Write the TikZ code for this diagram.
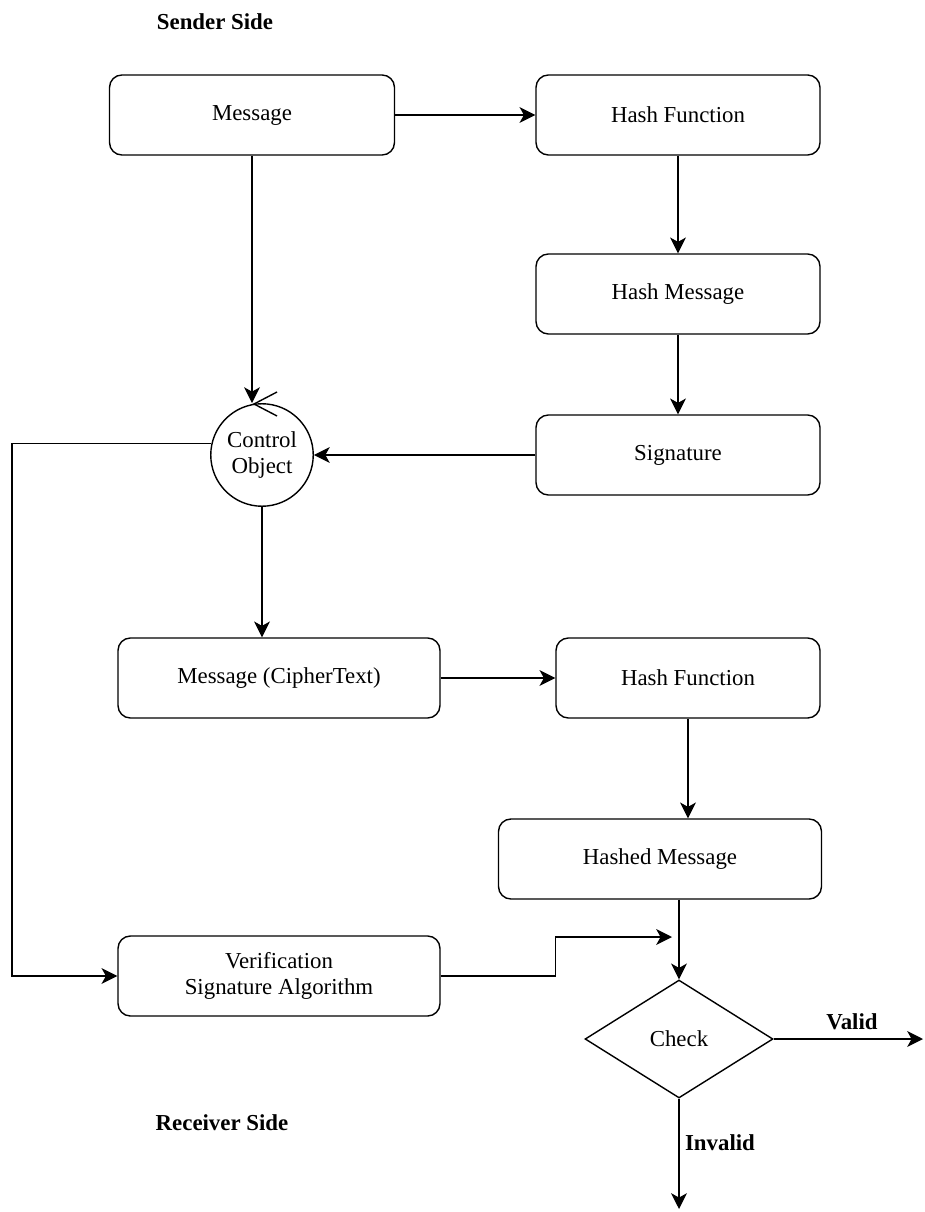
\documentclass[tikz,border=0pt]{standalone}
\usepackage{fontspec}
\setmainfont{Liberation Serif}
\usetikzlibrary{shapes.geometric,arrows.meta}

\begin{document}
\begin{tikzpicture}[x=0.02cm,y=-0.02cm,font=\fontsize{13}{15}\selectfont,line width=0.8pt,
    box/.style={rectangle,rounded corners=7pt,draw,minimum height=1.6cm,align=center,inner sep=2pt},
    ctrlobj/.style={circle,draw,minimum size=2.05cm,inner sep=0pt,align=center},
    check/.style={diamond,draw,minimum width=3.76cm,minimum height=2.36cm,inner sep=0pt},
    arr/.style={-{Stealth[length=9pt,width=9pt,inset=2.5pt]}},
    lbl/.style={font=\fontsize{13}{15}\selectfont\bfseries}]

    \useasboundingbox (0,0) rectangle (924,1212);

    % sender side
    \node[lbl] (snd) at (215,22) {Sender Side};
    \node[box,minimum width=5.7cm] (msg) at (252,115) {Message};
    \node[box,minimum width=5.68cm] (hash1) at (678,115) {Hash Function};
    \node[box,minimum width=5.68cm] (hmsg) at (678,294) {Hash Message};
    \node[box,minimum width=5.68cm] (sig) at (678,455) {Signature};
    \node[ctrlobj] (ctrl) at (262,455) {Control\\Object};
    \draw (277,392) -- (254,404) -- (277,416);

    % receiver side
    \node[box,minimum width=6.44cm] (ciph) at (279,678) {Message (CipherText)};
    \node[box,minimum width=5.28cm] (hash2) at (688,678) {Hash Function};
    \node[box,minimum width=6.46cm] (hshd) at (660,859) {Hashed Message};
    \node[box,minimum width=6.44cm] (verif) at (279,976) {Verification\\Signature Algorithm};
    \node[check] (chk) at (679,1039) {Check};
    \node[lbl] (rcv) at (222,1123) {Receiver Side};
    \node[lbl] (vld) at (852,1022) {Valid};
    \node[lbl] (inv) at (720,1143) {Invalid};

    \coordinate (lft) at (12,0);
    \coordinate (jn) at (672,937);
    \coordinate (vend) at (923,1039);
    \coordinate (iend) at (679,1209);

    \draw[arr] (msg) -- (hash1);
    \draw[arr] (hash1) -- (hmsg);
    \draw[arr] (hmsg) -- (sig);
    \draw[arr] (sig) -- (ctrl);
    \draw[arr] (msg) -- (msg |- ctrl.north);
    \draw[arr] (ctrl.south) -- (ctrl.south |- ciph.north);
    \draw[arr] (ctrl.167) -- (ctrl.167 -| lft) |- (verif.west);
    \draw[arr] (ciph.east) -- (ciph.east -| hash2.west);
    \draw[arr] (hash2.south) -- (hash2.south |- hshd.north);
    \draw[arr] (hshd.south -| chk) -- (chk.north);
    \draw[arr] (verif.east) -- ++(115,0) |- (jn);
    \draw[arr] (chk.east) -- (vend);
    \draw[arr] (chk.south) -- (iend);
\end{tikzpicture}
\end{document}
